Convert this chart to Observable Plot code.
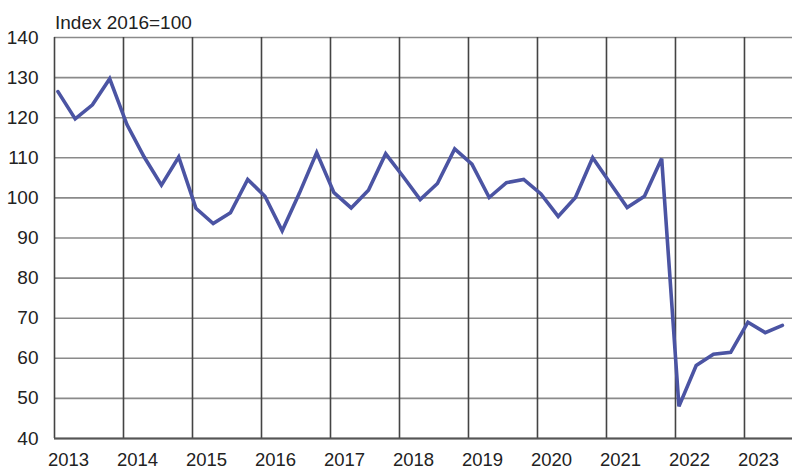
<!DOCTYPE html>
<html>
<head>
<meta charset="utf-8">
<script src="https://cdn.jsdelivr.net/npm/d3@7"></script>
<script src="https://cdn.jsdelivr.net/npm/@observablehq/plot@0.6"></script>
<style>
  html, body { margin: 0; padding: 0; background: #fff; }
  #chart { position: relative; width: 792px; height: 470px; }
  #unit { position: absolute; left: 55px; top: 12px; font: 19px "Liberation Sans", Arial, sans-serif; line-height: 22px; color: #222; }
</style>
</head>
<body>
<div id="chart"><div id="unit">Index 2016=100</div></div>
<script>
const years = [2013, 2014, 2015, 2016, 2017, 2018, 2019, 2020, 2021, 2022, 2023];
const quarters = [
  "2013Q1","2013Q2","2013Q3","2013Q4",
  "2014Q1","2014Q2","2014Q3","2014Q4",
  "2015Q1","2015Q2","2015Q3","2015Q4",
  "2016Q1","2016Q2","2016Q3","2016Q4",
  "2017Q1","2017Q2","2017Q3","2017Q4",
  "2018Q1","2018Q2","2018Q3","2018Q4",
  "2019Q1","2019Q2","2019Q3","2019Q4",
  "2020Q1","2020Q2","2020Q3","2020Q4",
  "2021Q1","2021Q2","2021Q3","2021Q4",
  "2022Q1","2022Q2","2022Q3","2022Q4",
  "2023Q1","2023Q2","2023Q3"
];
const values = [
  126.5, 119.7, 123.2, 129.7,
  118.3, 110.2, 103.2, 110.2,
  97.4, 93.6, 96.3, 104.6,
  100.4, 91.8, 101.2, 111.3,
  101.3, 97.5, 101.9, 111.0,
  105.4, 99.6, 103.6, 112.2,
  108.4, 100.1, 103.8, 104.6,
  101.0, 95.4, 100.1, 110.0,
  103.8, 97.6, 100.4, 109.8,
  48.0, 58.2, 61.0, 61.5,
  69.0, 66.4, 68.2
];
const yTicks = [40, 50, 60, 70, 80, 90, 100, 110, 120, 130, 140];

const data = quarters.map((q, i) => ({
  t: +q.slice(0, 4) + (+q.slice(5) - 1) / 4 + 0.05,
  v: values[i]
}));

const font = '"Liberation Sans", Arial, sans-serif';
const chart = Plot.plot({
  width: 792,
  height: 470,
  marginLeft: 54,
  marginRight: 0,
  marginTop: 37,
  marginBottom: 32,
  style: { fontFamily: font, fontSize: "19px", color: "#222", background: "transparent", overflow: "visible" },
  x: { domain: [2013, 2023.696], label: null },
  y: { domain: [40, 140], label: null },
  marks: [
    Plot.ruleY(yTicks, { stroke: "#8a8a8a", strokeWidth: 1.6 }),
    Plot.ruleX(years, { stroke: "#444", strokeWidth: 1.6 }),
    Plot.ruleY([40], { stroke: "#555", strokeWidth: 1.8 }),
    Plot.line(data, { x: "t", y: "v", stroke: "#4b54a3", strokeWidth: 3.6, strokeLinejoin: "miter", strokeMiterlimit: 4 }),
    Plot.axisY({ ticks: yTicks, tickSize: 0, tickPadding: 16, tickFormat: d => String(d), fontSize: 19 }),
    Plot.axisX({ ticks: years, tickSize: 0, tickPadding: 14, dx: 14, tickFormat: d => String(d), fontSize: 18.5 })
  ]
});
chart.style.position = "absolute";
chart.style.left = "0";
chart.style.top = "0";
document.getElementById("chart").appendChild(chart);
</script>
</body>
</html>
